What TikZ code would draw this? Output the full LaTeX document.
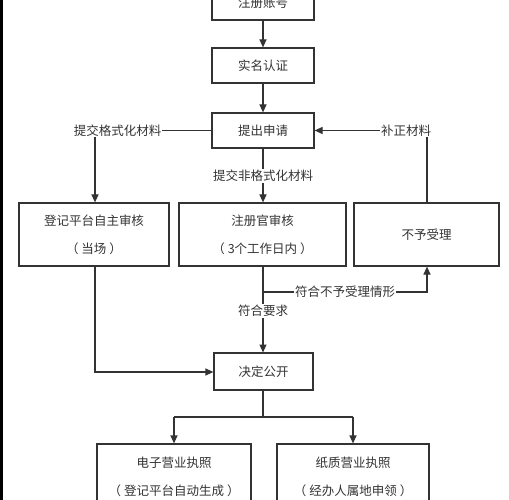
\documentclass[tikz,border=0pt]{standalone}
\usepackage{fontspec}
\setmainfont{Noto Sans CJK SC}
\usetikzlibrary{arrows.meta}
\definecolor{ink}{HTML}{333333}
\tikzset{
  box/.style={draw=ink, line width=1.2pt, fill=white, inner sep=0pt, align=center, text=ink, font=\fontsize{12.5}{28}\selectfont},
  conn/.style={draw=ink, line width=1.2pt},
  arr/.style={conn, -{Triangle[length=8pt,width=7pt]}},
  lbl/.style={fill=white, inner sep=1pt, text=ink, font=\fontsize{12.5}{15}\selectfont}
}
\begin{document}
\begin{tikzpicture}[x=1pt,y=-1pt]
\useasboundingbox (0,0) rectangle (509,500);
\fill[white] (0,0) rectangle (509,500);
\fill[black] (0,0) rectangle (3,500);
\node[box, minimum width=102pt, minimum height=35pt] (reg) at (263,2.5) {注册账号};
\node[box, minimum width=102pt, minimum height=35pt] (real) at (263,65.5) {实名认证};
\node[box, minimum width=102pt, minimum height=35pt] (apply) at (263,130.5) {提出申请};
\node[box, minimum width=150pt, minimum height=63pt] (self) at (94,234.5) {登记平台自主审核\\（\hspace{3pt}当场\hspace{3pt}）};
\node[box, minimum width=167pt, minimum height=63pt] (officer) at (262.5,234.5) {注册官审核\\（\hspace{3pt}3个工作日内\hspace{3pt}）};
\node[box, minimum width=145pt, minimum height=63pt] (reject) at (426.5,234.5) {不予受理};
\node[box, minimum width=99pt, minimum height=37pt] (decide) at (263.5,371.5) {决定公开};
\node[box, minimum width=154pt, minimum height=66pt] (elec) at (174,477) {电子营业执照\\（\hspace{3pt}登记平台自动生成\hspace{3pt}）};
\node[box, minimum width=152pt, minimum height=66pt] (paper) at (353,477) {纸质营业执照\\（\hspace{3pt}经办人属地申领\hspace{3pt}）};

\coordinate (lc) at (95,130.5);
\coordinate (rc) at (427,130.5);
\coordinate (br) at (263,292);
\coordinate (brr) at (427,292);
\coordinate (lb) at (95,372);
\coordinate (dj) at (263,417);
\coordinate (dl) at (174,417);
\coordinate (dr) at (353,417);

\draw[arr] (reg.south) -- (real.north);
\draw[arr] (real.south) -- (apply.north);
\draw[arr] (apply.west) -- (lc) -- (lc |- self.north);
\node[lbl] (l1) at (117.5,130.5) {提交格式化材料};
\draw[arr] (rc |- reject.north) -- (rc) -- (apply.east);
\node[lbl] (l2) at (406,130.5) {补正材料};
\draw[arr] (apply.south) -- (apply.south |- officer.north);
\node[lbl] (l3) at (263,176) {提交非格式化材料};
\draw[arr] (263,266) -- (263,352.5);
\node[lbl] (l4) at (263,311) {符合要求};
\draw[arr] (br) -- (brr) -- (brr |- reject.south);
\node[lbl] (l5) at (345,292) {符合不予受理情形};
\draw[arr] (lc |- self.south) -- (lb) -- (decide.west |- lb);
\draw[conn] (decide.south -| dj) -- (dj);
\draw[conn] (dl) -- (dr);
\draw[arr] (dl) -- (elec.north -| dl);
\draw[arr] (dr) -- (paper.north -| dr);
\end{tikzpicture}
\end{document}
